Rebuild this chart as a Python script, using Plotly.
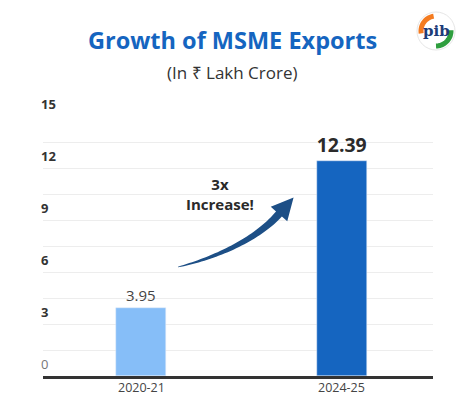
import numpy as np
import plotly.graph_objects as go

categories = ["2020-21", "2024-25"]
values = [3.95, 12.39]
value_labels = ["3.95", "<b>12.39</b>"]
bar_colors = ["#86BEF8", "#1565C0"]
y_ticks = [0, 3, 6, 9, 12, 15]
y_tick_labels = ["0", "3", "6", "9", "12", "15"]

W, H = 464, 395
L, R, T, B = 43, 31, 116, 19
PW, PH = W - L - R, H - T - B

def px2paper(x, y):
    return (x - L) / PW, (H - B - y) / PH

fig = go.Figure()
fig.add_trace(go.Bar(
    x=categories, y=values, marker_color=bar_colors, width=0.25,
    text=value_labels, textposition="outside", cliponaxis=False,
    textfont=dict(family="Open Sans", size=[15, 21], color=["#444", "#2b2b2b"]),
    hoverinfo="skip",
))

# y tick labels above gridlines
for v, lab in zip(y_ticks, y_tick_labels):
    fig.add_annotation(x=0, xref="paper", y=v, yref="y", text=(lab if v == 0 else "<b>" + lab + "</b>"),
                       showarrow=False, xanchor="left", yanchor="bottom", yshift=1, xshift=-4,
                       font=dict(family="Open Sans", size=13, color=("#777" if v == 0 else "#333")))

# x category labels under axis
for c in categories:
    fig.add_annotation(x=c, xref="x", y=0, yref="y", text=c, showarrow=False,
                       xanchor="center", yanchor="top", yshift=-2, borderpad=0,
                       font=dict(family="Open Sans", size=12.5, color="#444"))

# curved arrow (decoration)
P0 = np.array([178, 267]); C1 = np.array([215, 258]); C2 = np.array([256, 240]); P3 = np.array([279, 214])
t = np.linspace(0, 1, 40)[:, None]
pts = (1 - t) ** 3 * P0 + 3 * (1 - t) ** 2 * t * C1 + 3 * (1 - t) * t ** 2 * C2 + t ** 3 * P3
d = 3 * (1 - t) ** 2 * (C1 - P0) + 6 * (1 - t) * t * (C2 - C1) + 3 * t ** 2 * (P3 - C2)
d = d / np.linalg.norm(d, axis=1, keepdims=True)
n = np.stack([-d[:, 1], d[:, 0]], axis=1)
w = (0.3 + 3.6 * t[:, 0] ** 0.8)[:, None]
upper = pts + n * w
lower = pts - n * w
dend = d[-1]; nend = n[-1]
hb1 = P3 + nend * 11
hb2 = P3 - nend * 11
tip = P3 + dend * 22
poly = list(upper) + [hb1, tip, hb2] + list(lower[::-1])
path = ""
for i, (x, y) in enumerate(poly):
    px_, py_ = px2paper(x, y)
    path += ("M" if i == 0 else "L") + f"{px_:.4f},{py_:.4f} "
path += "Z"
fig.add_shape(type="path", path=path, xref="paper", yref="paper",
              fillcolor="#1D4F86", line=dict(width=0))

ax_, _ = px2paper(220, 0)
_, ay_ = px2paper(0, 194)
fig.add_annotation(x=ax_, xref="paper", y=ay_, yref="paper", xanchor="center", yanchor="middle",
                   text="<b>3x<br>Increase!</b>", showarrow=False,
                   font=dict(family="Open Sans", size=15, color="#2a2a2a"), align="center")

# titles
tx, _ = px2paper(232, 0)
fig.add_annotation(x=tx, xref="paper", y=px2paper(0, 40)[1], yref="paper", xanchor="center", yanchor="middle",
                   text="<b>Growth of MSME Exports</b>", showarrow=False,
                   font=dict(family="Open Sans", size=23.5, color="#1565C0"))
fig.add_annotation(x=tx, xref="paper", y=px2paper(0, 73)[1], yref="paper", xanchor="center", yanchor="middle",
                   text="(In ₹ Lakh Crore)", showarrow=False,
                   font=dict(family="Open Sans", size=17, color="#333"))

# logo (decoration)
cx, cy, r = 436, 31, 19
x0, y0 = px2paper(cx - r, cy + r); x1, y1 = px2paper(cx + r, cy - r)
fig.add_shape(type="circle", xref="paper", yref="paper", x0=x0, y0=y0, x1=x1, y1=y1,
              fillcolor="white", line=dict(color="#E6E6E6", width=1))
def arc(a0, a1, rr):
    s = ""
    for i, a in enumerate(np.linspace(a0, a1, 20)):
        px_, py_ = px2paper(cx + rr * np.cos(a), cy - rr * np.sin(a))
        s += ("M" if i == 0 else "L") + f"{px_:.4f},{py_:.4f} "
    return s
fig.add_shape(type="path", xref="paper", yref="paper", path=arc(np.pi * 0.55, np.pi * 1.05, 15),
              line=dict(color="#F47B20", width=5))
fig.add_shape(type="path", xref="paper", yref="paper", path=arc(-np.pi * 0.5, 0.05, 15),
              line=dict(color="#2E9E3E", width=5))
lx, ly = px2paper(cx, cy)
fig.add_annotation(x=lx, y=ly, xref="paper", yref="paper", xanchor="center", yanchor="middle",
                   text="<b>pib</b>", showarrow=False,
                   font=dict(family="DejaVu Serif", size=15, color="#1D3C78"))

fig.update_layout(
    width=W, height=H, margin=dict(l=L, r=R, t=T, b=B, autoexpand=False),
    paper_bgcolor="white", plot_bgcolor="white", showlegend=False,
    xaxis=dict(range=[-0.49, 1.454], showline=True, linecolor="#333", linewidth=3,
               showgrid=False, ticks="", automargin=False, showticklabels=False,
               fixedrange=True),
    yaxis=dict(range=[0, 15], dtick=1.5, showgrid=True, gridcolor="#EDEDED", gridwidth=1,
               showticklabels=False, zeroline=False, automargin=False, fixedrange=True),
    bargap=0,
)
fig.write_html("out.html", config={"displayModeBar": False},
               post_script="document.body.style.margin='0';document.body.style.overflow='hidden';")
